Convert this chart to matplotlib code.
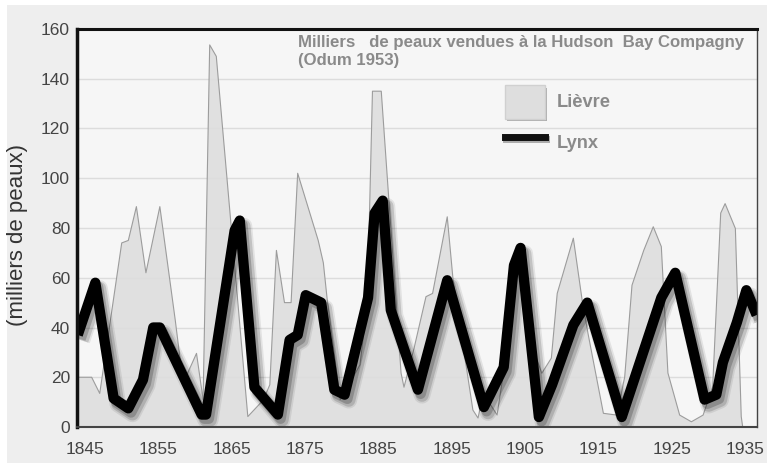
import matplotlib
matplotlib.use("Agg")
import matplotlib.pyplot as plt
import matplotlib.patheffects as pe
from matplotlib.patches import Patch, Rectangle
from matplotlib.lines import Line2D
from matplotlib import font_manager

# ---------------- data ----------------
hare_years = [1844.0, 1845.9, 1847.0, 1850.0, 1850.9, 1852.0, 1853.3, 1855.2, 1857.3,
              1858.4, 1859.0, 1860.2, 1861.1, 1862.0, 1862.9, 1867.2, 1869.3, 1870.2,
              1871.1, 1872.2, 1873.1, 1874.0, 1876.8, 1877.5, 1878.0, 1879.8, 1882.5,
              1883.5, 1884.2, 1885.4, 1886.5, 1888.1, 1888.5, 1889.9, 1891.5, 1892.4,
              1894.4, 1895.2, 1897.9, 1898.6, 1899.3, 1901.2, 1903.0, 1904.3, 1905.3,
              1907.3, 1908.6, 1909.4, 1911.6, 1912.8, 1913.6, 1915.7, 1917.5, 1918.6,
              1919.6, 1921.2, 1922.5, 1923.6, 1924.5, 1926.1, 1927.7, 1929.3, 1930.6,
              1931.7, 1932.3, 1933.7, 1934.5, 1934.7]
hare_values = [20, 20, 13.5, 74, 75, 88.6, 62, 88.6, 43,
               17, 21.7, 29.6, 11, 153.6, 149, 4.2, 10.8, 17,
               71, 50, 50, 102, 75, 66, 52, 11, 25,
               50, 135, 135, 88.6, 21.7, 16, 32, 52.4, 53.7,
               84.5, 59, 6.8, 3.6, 13.6, 4.8, 40, 72, 38,
               21.6, 27.7, 53.7, 75.9, 51, 37.6, 5.5, 4.8, 20,
               57, 71, 80.5, 72.5, 21.7, 4.8, 2.1, 4.8, 16,
               86, 89.8, 79.8, 4.2, 0]

lynx_years = [1844.0, 1846.4, 1848.9, 1850.9, 1852.9, 1854.3, 1855.2, 1860.9, 1861.5,
              1865.4, 1866.1, 1868.1, 1871.3, 1872.9, 1874.0, 1875.1, 1877.2, 1879.0,
              1880.4, 1883.6, 1884.5, 1885.6, 1886.7, 1890.4, 1894.4, 1899.4, 1902.1,
              1903.5, 1904.4, 1906.9, 1908.7, 1911.6, 1913.5, 1918.2, 1923.6, 1925.5,
              1929.5, 1931.1, 1932.0, 1933.9, 1935.2, 1936.6]
lynx_values = [37, 58, 11.5, 7.5, 19, 40, 40, 5, 5,
               79, 83, 16, 5, 35, 37, 53, 50, 15,
               13, 52, 86, 91, 47, 15, 59, 8, 24,
               65, 72, 4, 17, 41, 50, 4, 52, 62,
               11, 13, 26, 42, 55, 45]

x_ticks = [1845, 1855, 1865, 1875, 1885, 1895, 1905, 1915, 1925, 1935]
y_ticks = [0, 20, 40, 60, 80, 100, 120, 140, 160]
title_lines = ["Milliers   de peaux vendues à la Hudson  Bay Compagny", "(Odum 1953)"]
legend_labels = ["Lièvre", "Lynx"]
y_label = "(milliers de peaux)"

# ---------------- fonts ----------------
FAM = ["Liberation Sans", "DejaVu Sans"]

def fp(size, bold):
    return font_manager.FontProperties(family=FAM, weight="bold" if bold else "normal",
                                       size=size)

W, H = 773, 472
fig = plt.figure(figsize=(W / 100, H / 100), dpi=100, facecolor="white")
renderer = fig.canvas.get_renderer()

def fit_size(text, bold, target_px, start=14.0):
    size = start
    for _ in range(3):
        t = fig.text(0, 0, text, fontproperties=fp(size, bold))
        w = t.get_window_extent(renderer).width
        t.remove()
        size = size * target_px / w
    return size

fig.patches.append(Rectangle((7 / W, 1 - 463 / H), 760 / W, 458 / H,
                             transform=fig.transFigure, facecolor="#eeeeee",
                             edgecolor="none", zorder=-5))

ax = fig.add_axes([77 / W, 1 - 427 / H, 680 / W, 398 / H])
ax.set_zorder(2)
ax.set_facecolor("#f6f6f6")
ax.set_xlim(1843.9, 1936.65)
ax.set_ylim(0, 160)

for yv in y_ticks[1:-1]:
    ax.axhline(yv, color="#dcdcdc", lw=1.0, zorder=1)

ax.fill_between(hare_years, hare_values, 0, facecolor="#dedede", edgecolor="none",
                alpha=0.9, zorder=2)
ax.plot(hare_years, hare_values, color="#9c9c9c", lw=0.8, zorder=3)

shadow = [
    pe.SimpleLineShadow(offset=(3, -4), shadow_color="black", alpha=0.08, rho=1, linewidth=12),
    pe.SimpleLineShadow(offset=(3, -4), shadow_color="black", alpha=0.14, rho=1, linewidth=9.5),
    pe.SimpleLineShadow(offset=(2, -3), shadow_color="black", alpha=0.2, rho=1, linewidth=7.5),
    pe.Normal(),
]
ax.plot(lynx_years, lynx_values, color="black", lw=7.4, solid_joinstyle="round",
        solid_capstyle="butt", zorder=5, path_effects=shadow)

for side, lw, col in [("left", 2.5, "#111111"), ("top", 2.2, "#111111"),
                      ("right", 1.0, "#444444"), ("bottom", 1.5, "#444444")]:
    ax.spines[side].set_linewidth(lw)
    ax.spines[side].set_color(col)
    ax.spines[side].set_zorder(6)

ax.set_xticks(x_ticks)
ax.set_yticks(y_ticks)
ax.tick_params(axis="both", length=0, colors="#444444")
ax.tick_params(axis="y", pad=5)
ax.tick_params(axis="x", pad=11)
for lab in ax.get_xticklabels() + ax.get_yticklabels():
    lab.set_fontproperties(fp(12.5, False))
    lab.set_color("#444444")

title_size = fit_size(title_lines[0], True, 447, 14)
ax.text(0.325, 0.985, "\n".join(title_lines), transform=ax.transAxes, ha="left", va="top",
        fontproperties=fp(title_size, True),
        color="#8a8a8a", linespacing=1.25, zorder=7)

leg_size = fit_size(legend_labels[0], True, 54, 13)
fpx = leg_size * 100 / 72
handles = [Patch(facecolor="#dedede", edgecolor="#d0d0d0"),
           Line2D([0], [0], color="#111111", lw=5)]
leg = ax.legend(handles, legend_labels, loc="upper left", bbox_to_anchor=(0.629, 0.859),
                frameon=False, borderpad=0, borderaxespad=0,
                handlelength=40 / fpx, handleheight=44.5 / fpx,
                labelspacing=7 / fpx, handletextpad=12 / fpx,
                prop=fp(leg_size, True))
for t in leg.get_texts():
    t.set_color("#8a8a8a")
leg.legend_handles[0].set_path_effects([pe.SimplePatchShadow(offset=(2, -2), alpha=0.4), pe.Normal()])
leg.legend_handles[1].set_path_effects([pe.SimpleLineShadow(offset=(1, -2), alpha=0.3), pe.Normal()])
leg.set_zorder(7)

fig.text(18 / W, 1 - 235 / H, y_label, rotation=90, ha="center", va="center",
         fontsize=16, color="#333333", family=FAM)

fig.savefig("out.png", dpi=100, facecolor=fig.get_facecolor())
